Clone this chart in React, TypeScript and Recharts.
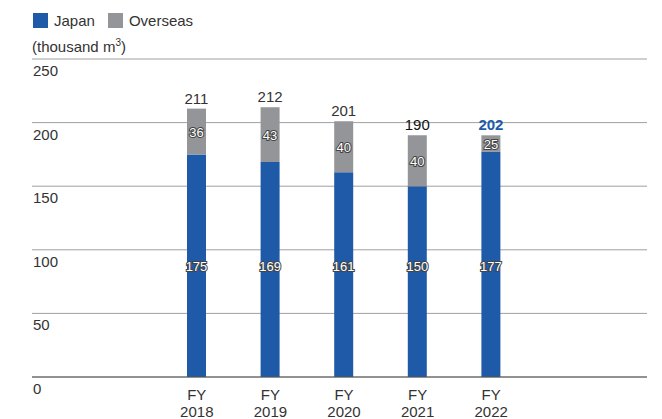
import React from 'react';
import { BarChart, Bar, XAxis, YAxis, CartesianGrid, LabelList } from 'recharts';

const categories = ['2018', '2019', '2020', '2021', '2022'];
const japan = [175, 169, 161, 150, 177];
// bar heights as drawn in the picture
const overseas = [36, 43, 40, 40, 13];
const overseasLabels = [36, 43, 40, 40, 25];
const totals = [211, 212, 201, 190, 202];
const totalColors = ['#333333', '#333333', '#333333', '#111111', '#1E5AA8'];
const totalWeights = [400, 400, 400, 400, 700];
const yTicks = [0, 50, 100, 150, 200, 250];

const JAPAN_COLOR = '#1E5AA8';
const OVERSEAS_COLOR = '#939598';
const FONT = '"Liberation Sans", Arial, sans-serif';

const data = categories.map((c, i) => ({
  name: c,
  japan: japan[i],
  overseas: overseas[i],
  overseasLabel: overseasLabels[i],
  total: totals[i],
  idx: i,
}));

const YTick = (props: any) => {
  const { y, payload } = props;
  return (
    <text x={33} y={y + 17} fill="#333" fontSize={15} fontFamily={FONT} textAnchor="start">
      {payload.value}
    </text>
  );
};

const XTick = (props: any) => {
  const { x, y, payload } = props;
  return (
    <g>
      <text x={x} y={y + 15} fill="#333" fontSize={15} fontFamily={FONT} textAnchor="middle">FY</text>
      <text x={x} y={y + 32} fill="#333" fontSize={15} fontFamily={FONT} textAnchor="middle">{payload.value}</text>
    </g>
  );
};

const outlined = {
  fill: '#fff',
  stroke: '#444',
  strokeWidth: 2,
  paintOrder: 'stroke' as const,
  fontSize: 13,
  fontFamily: FONT,
};

const JapanLabel = (props: any) => {
  const { x, y, width, height, value } = props;
  return (
    <text x={x + width / 2} y={y + height - 106} textAnchor="middle" {...outlined}>
      {value}
    </text>
  );
};

const OverseasLabel = (props: any) => {
  const { x, y, width, height, value } = props;
  return (
    <text x={x + width / 2} y={y + height / 2 + 5} textAnchor="middle" {...outlined}>
      {value}
    </text>
  );
};

const TotalLabel = (props: any) => {
  const { x, y, width, index } = props;
  return (
    <text
      x={x + width / 2}
      y={y - 5}
      textAnchor="middle"
      fill={totalColors[index]}
      fontWeight={totalWeights[index]}
      fontSize={15}
      fontFamily={FONT}
    >
      {totals[index]}
    </text>
  );
};

export default function App() {
  return (
    <div style={{ position: 'absolute', left: 0, top: 0, width: 662, height: 419, background: '#fff', fontFamily: FONT }}>
      <div style={{ position: 'absolute', left: 33, top: 13, display: 'flex', alignItems: 'center', fontSize: 15, color: '#333', lineHeight: '15px' }}>
        <span style={{ display: 'inline-block', width: 15, height: 15, background: JAPAN_COLOR, marginRight: 6 }} />
        <span style={{ marginRight: 13 }}>Japan</span>
        <span style={{ display: 'inline-block', width: 15, height: 15, background: OVERSEAS_COLOR, marginRight: 6 }} />
        <span>Overseas</span>
      </div>
      <div style={{ position: 'absolute', left: 32, top: 38, fontSize: 15, color: '#333', lineHeight: '18px' }}>
        (thousand m<sup style={{ fontSize: 10, verticalAlign: 'top', lineHeight: '10px' }}>3</sup>)
      </div>
      <BarChart
        width={662}
        height={419}
        data={data}
        margin={{ top: 59, right: 15, left: 2, bottom: 12 }}
        barSize={19}
      >
        <CartesianGrid horizontal vertical={false} stroke="#a0a0a0" strokeWidth={1} />
        <XAxis
          dataKey="name"
          height={30}
          axisLine={{ stroke: '#555', strokeWidth: 1.2 }}
          tickLine={false}
          tick={<XTick />}
          padding={{ left: 128, right: 119 }}
          interval={0}
        />
        <YAxis
          domain={[0, 250]}
          ticks={yTicks}
          interval={0}
          width={30}
          axisLine={false}
          tickLine={false}
          tick={<YTick />}
        />
        <Bar dataKey="japan" stackId="a" fill={JAPAN_COLOR} isAnimationActive={false}>
          <LabelList dataKey="japan" content={<JapanLabel />} />
        </Bar>
        <Bar dataKey="overseas" stackId="a" fill={OVERSEAS_COLOR} isAnimationActive={false}>
          <LabelList dataKey="overseasLabel" content={<OverseasLabel />} />
          <LabelList dataKey="total" content={<TotalLabel />} />
        </Bar>
      </BarChart>
    </div>
  );
}
